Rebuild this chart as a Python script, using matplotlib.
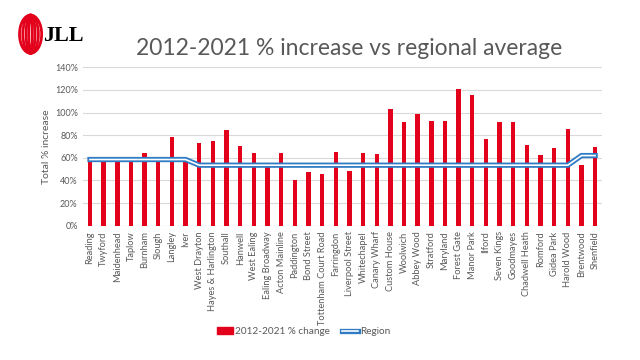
import matplotlib
matplotlib.use("Agg")
import matplotlib.pyplot as plt
from matplotlib.patches import Ellipse
from matplotlib.lines import Line2D
from matplotlib.patches import Patch

stations = [
    "Reading", "Twyford", "Maidenhead", "Taplow", "Burnham", "Slough", "Langley",
    "Iver", "West Drayton", "Hayes & Harlington", "Southall", "Hanwell",
    "West Ealing", "Ealing Broadway", "Acton Mainline", "Paddington",
    "Bond Street", "Tottenham Court Road", "Farringdon", "Liverpool Street",
    "Whitechapel", "Canary Wharf", "Custom House", "Woolwich", "Abbey Wood",
    "Stratford", "Maryland", "Forest Gate", "Manor Park", "Ilford",
    "Seven Kings", "Goodmayes", "Chadwell Heath", "Romford", "Gidea Park",
    "Harold Wood", "Brentwood", "Shenfield",
]
pct_change = [
    58, 57, 61, 61, 64.5, 59, 78, 57, 73.5, 74.5, 84.5, 70.5,
    64.5, 52, 64.5, 40.5, 47.5, 45.5, 65.5, 48.5,
    64.5, 63.5, 103.5, 91.5, 98.5, 92.5, 92.5, 120.5, 115.5, 76.5,
    91.5, 91.5, 71.5, 62.5, 68.5, 85.5, 53.5, 69.5,
]
region = [58.5] * 8 + [53.5] * 28 + [62, 62]

RED = "#E2001A"
BLUE = "#2F7BC4"
GREY = "#595959"
FONT = ["Lato", "DejaVu Sans"]

plt.rcParams["font.family"] = FONT

fig = plt.figure(figsize=(6.4, 3.6), dpi=100)
ax = fig.add_axes([0.13, 0.373, 0.8106, 0.44])

x = list(range(len(stations)))
ax.bar(x, [v / 100 for v in pct_change], width=0.32, color=RED, zorder=2)
reg = [v / 100 for v in region]
ax.plot(x, reg, color=BLUE, linewidth=3.8, zorder=3, solid_joinstyle="miter")
ax.plot(x, reg, color="white", linewidth=1.2, zorder=4, solid_joinstyle="miter")

ax.set_ylim(0, 1.4)
ax.set_xlim(-0.5, len(stations) - 0.5)
ax.set_yticks([i / 10 for i in range(0, 15, 2)])
ax.set_yticklabels([f"{i * 10}%" for i in range(0, 15, 2)], color=GREY, fontsize=6.5)
ax.set_xticks(x)
ax.set_xticklabels(stations, rotation=90, color=GREY, fontsize=6.7)
ax.tick_params(length=0, pad=4)
ax.grid(axis="y", color="#D9D9D9", linewidth=0.8, zorder=0)
for side in ["top", "right", "left", "bottom"]:
    ax.spines[side].set_visible(False)
ax.axhline(0, color="#D9D9D9", linewidth=0.8, zorder=1)
ax.set_ylabel("Total % increase", color=GREY, fontsize=7.5, labelpad=3)

fig.text(0.545, 0.865, "2012-2021 % increase vs regional average",
         ha="center", va="center", fontsize=16.5, color=GREY)

# legend
handles = [
    Patch(facecolor=RED, edgecolor=RED),
    (Line2D([], [], color=BLUE, linewidth=3.8), Line2D([], [], color="white", linewidth=1.2)),
]
fig.legend(handles, ["2012-2021 % change", "Region"], loc="center",
           bbox_to_anchor=(0.475, 0.078), ncol=2, frameon=False, fontsize=7.2,
           handlelength=1.6, handletextpad=0.2, columnspacing=1.2,
           labelcolor=GREY)

# JLL logo
lax = fig.add_axes([0.025, 0.845, 0.11, 0.12])
lax.set_xlim(0, 70)
lax.set_ylim(0, 43)
lax.axis("off")
for w in [22, 15.5, 9, 3.5]:
    lax.add_patch(Ellipse((14.5, 21.5), w, 38, fill=False, edgecolor=RED, linewidth=2.0))
lax.text(27, 20, "JLL", fontsize=16, fontweight="bold", family="Liberation Serif",
         color="black", va="center", ha="left")

fig.savefig("out.png", dpi=100)
